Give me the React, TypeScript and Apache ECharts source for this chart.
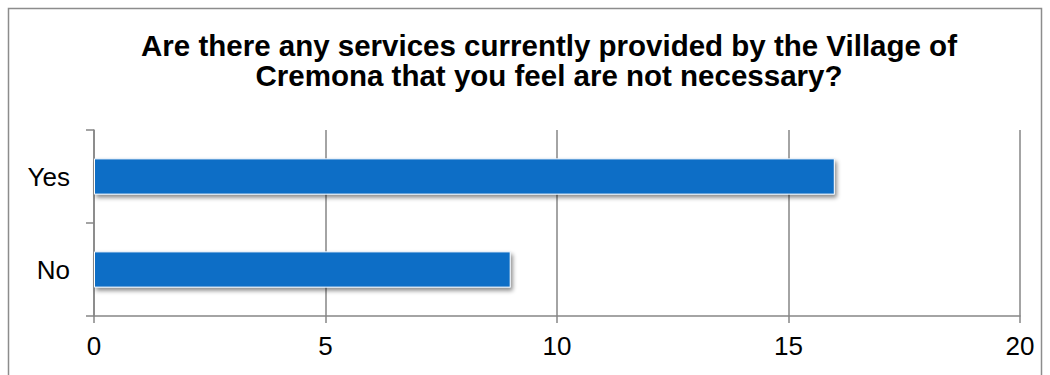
import React, { useEffect, useRef } from "react";
import * as echarts from "echarts";

const titleLines = [
  "Are there any services currently provided by the Village of",
  "Cremona that you feel are not necessary?",
];
const categories = ["Yes", "No"];
const values = [16, 9];
const xMin = 0;
const xMax = 20;
const xInterval = 5;

const FONT = "Liberation Sans, Arial, sans-serif";

export default function App() {
  const ref = useRef<HTMLDivElement>(null);
  useEffect(() => {
    if (!ref.current) return;
    const chart = echarts.init(ref.current, undefined, { renderer: "svg" });
    chart.setOption({
      animation: false,
      backgroundColor: "#ffffff",
      title: {
        text: titleLines.join("\n"),
        left: 544,
        top: 25,
        textAlign: "center",
        textStyle: {
          fontFamily: FONT,
          fontSize: 29.5,
          fontWeight: "bold",
          color: "#000000",
          lineHeight: 30,
        },
      },
      graphic: [
        {
          type: "rect",
          shape: { x: 8.5, y: 8.5, width: 1033, height: 420 },
          style: { fill: "none", stroke: "#8c8c8c", lineWidth: 1.5 },
          silent: true,
        },
      ],
      grid: { left: 94, right: 30, top: 130, bottom: 59 },
      xAxis: {
        type: "value",
        min: xMin,
        max: xMax,
        interval: xInterval,
        axisLine: { show: true, lineStyle: { color: "#868686", width: 1.5 } },
        axisTick: { show: true, length: 7, lineStyle: { color: "#868686", width: 1.5 } },
        splitLine: { show: true, lineStyle: { color: "#868686", width: 1.5 } },
        axisLabel: {
          color: "#000000",
          fontSize: 26,
          margin: 17,
          fontFamily: FONT,
        },
      },
      yAxis: {
        type: "category",
        data: categories,
        inverse: true,
        axisLine: { show: true, lineStyle: { color: "#868686", width: 1.5 } },
        axisTick: { show: true, length: 8, lineStyle: { color: "#868686", width: 1.5 } },
        axisLabel: {
          color: "#000000",
          fontSize: 26,
          margin: 24,
          fontFamily: FONT,
        },
      },
      series: [
        {
          type: "bar",
          data: values,
          barWidth: "39%",
          itemStyle: {
            color: "#0F6EC6",
            borderColor: "#ffffff",
            borderWidth: 1,
            shadowColor: "rgba(0,0,0,0.45)",
            shadowBlur: 4,
            shadowOffsetX: 2,
            shadowOffsetY: 3,
          },
        },
      ],
    });
    return () => chart.dispose();
  }, []);
  return (
    <div
      ref={ref}
      style={{ position: "fixed", left: 0, top: 0, width: 1050, height: 375 }}
    />
  );
}
